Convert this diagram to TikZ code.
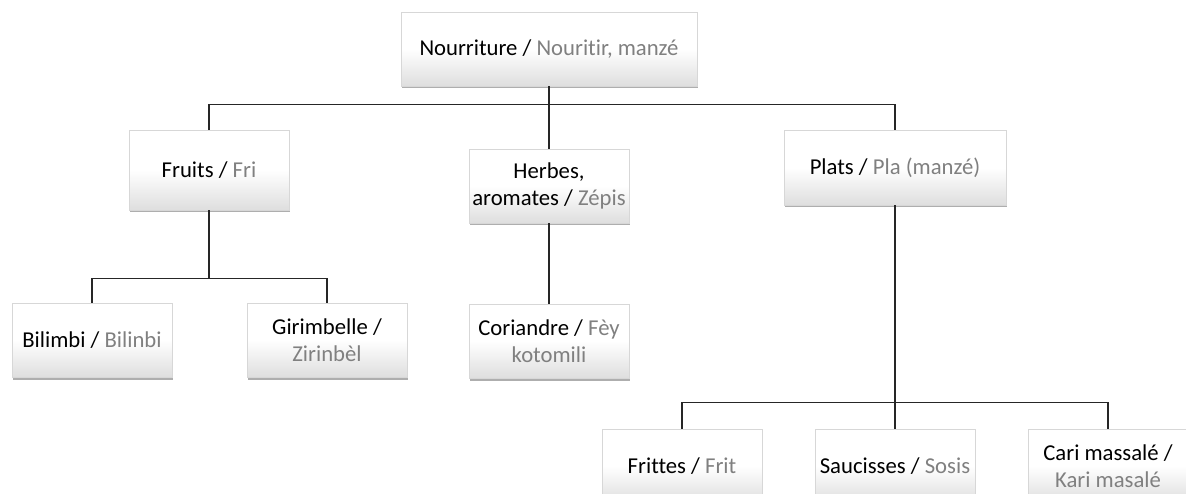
\documentclass[tikz,border=0pt]{standalone}
\usepackage{fontspec}
\setmainfont{Carlito}[Ligatures=NoCommon]
\usetikzlibrary{shadows}
\definecolor{krgray}{RGB}{128,128,128}
\definecolor{boxline}{RGB}{215,215,215}
\definecolor{boxbottom}{RGB}{222,222,222}
\newcommand{\kr}[1]{\textcolor{krgray}{#1}}

\begin{document}
\begin{tikzpicture}[x=1pt,y=-1pt,
  box/.style={draw=boxline, line width=0.5pt, top color=white, bottom color=boxbottom, middle color=white,
    drop shadow={shadow xshift=1.2pt, shadow yshift=-2.5pt, opacity=0.45, fill=black!70},
    minimum width=160pt, minimum height=74pt, inner sep=0pt, align=center,
    font=\fontsize{22.7}{27}\selectfont},
  link/.style={draw=black!85, line width=1.3pt}]

% Page frame
\clip (0,0) rectangle (1186,494);

% Top level
\node[box, minimum width=296pt] (food) at (549,49) {Nourriture / \kr{Nouritir, manzé}};

% Second level
\node[box, minimum height=80pt] (fruits) at (209,170) {Fruits / \kr{Fri}};
\node[box] (herbs) at (549,186) {Herbes,\\aromates / \kr{Zépis}};
\node[box, minimum width=222pt, minimum height=75pt] (dishes) at (895,167.5) {Plats / \kr{Pla (manzé)}};

% Third level
\node[box] (bilimbi) at (92,340) {Bilimbi / \kr{Bilinbi}};
\node[box] (girimbelle) at (327,340) {Girimbelle /\\\kr{Zirinbèl}};
\node[box] (coriander) at (549,341) {Coriandre / \kr{Fèy}\\\kr{kotomili}};

\node[box] (fries) at (682,466) {Frittes / \kr{Frit}};
\node[box] (sausages) at (895,466) {Saucisses / \kr{Sosis}};
\node[box] (curry) at (1108,466) {Cari massalé /\\\kr{Kari masalé}};

% Connectors
\draw[link] (food.south) -- ++(0,18) -| (fruits.north);
\draw[link] (food.south) -- ++(0,18) -| (dishes.north);
\draw[link] (food.south) -- (herbs.north);
\draw[link] (herbs.south) -- (coriander.north);

\draw[link] (fruits.south) -- ++(0,68) -| (bilimbi.north);
\draw[link] (fruits.south) -- ++(0,68) -| (girimbelle.north);

\draw[link] (dishes.south) -- ++(0,197) -| (fries.north);
\draw[link] (dishes.south) -- ++(0,197) -| (curry.north);
\draw[link] (dishes.south) -- (sausages.north);

\end{tikzpicture}
\end{document}
